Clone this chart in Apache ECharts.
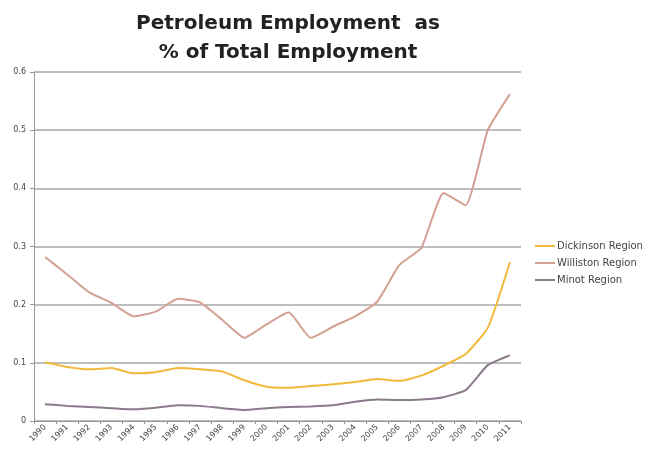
<!DOCTYPE html>
<html>
<head>
<meta charset="utf-8">
<script src="https://cdn.jsdelivr.net/npm/echarts@6/dist/echarts.min.js"></script>
<style>html,body{margin:0;padding:0;background:#fff;}#c{width:654px;height:457px;}</style>
</head>
<body>
<div id="c"></div>
<script>
const years = ['1990','1991','1992','1993','1994','1995','1996','1997','1998','1999','2000','2001','2002','2003','2004','2005','2006','2007','2008','2009','2010','2011'];
const dickinson = [0.101,0.093,0.089,0.091,0.082,0.084,0.091,0.089,0.085,0.070,0.059,0.057,0.060,0.063,0.067,0.072,0.069,0.078,0.095,0.115,0.160,0.273];
const williston = [0.282,0.252,0.221,0.203,0.180,0.188,0.210,0.204,0.174,0.143,0.166,0.187,0.143,0.162,0.180,0.205,0.268,0.298,0.392,0.371,0.500,0.562];
const minot = [0.029,0.026,0.024,0.022,0.020,0.023,0.027,0.026,0.022,0.019,0.022,0.024,0.025,0.027,0.033,0.037,0.036,0.037,0.041,0.053,0.096,0.113];
const yTicks = ['0','0.1','0.2','0.3','0.4','0.5','0.6'];

const chart = echarts.init(document.getElementById('c'));
const mk = (name, data, color) => ({
  name, type: 'line', data, symbol: 'none', smooth: 0.15,
  lineStyle: { color, width: 2 }, itemStyle: { color }
});
chart.setOption({
  animation: false,
  title: {
    text: 'Petroleum Employment  as\n% of Total Employment',
    left: 283, top: 4, textAlign: 'center',
    textStyle: { fontFamily: 'DejaVu Sans', fontSize: 20, fontWeight: 'bold', color: '#222', lineHeight: 29 }
  },
  legend: {
    orient: 'vertical', left: 530, top: 236, itemGap: 7,
    itemWidth: 20, itemHeight: 2, icon: 'rect',
    textStyle: { fontFamily: 'DejaVu Sans', fontSize: 10, color: '#444', padding: [0,0,0,-3] },
    data: ['Dickinson Region','Williston Region','Minot Region']
  },
  grid: { left: 34, right: 133, top: 72, bottom: 36 },
  xAxis: {
    type: 'category', data: years, boundaryGap: true,
    axisLine: { lineStyle: { color: '#999', width: 1 } },
    axisTick: { show: true, alignWithLabel: false, lineStyle: { color: '#999' }, length: 3 },
    axisLabel: { rotate: 45, fontSize: 8, color: '#444', fontFamily: 'DejaVu Sans', interval: 0, margin: 5 }
  },
  yAxis: {
    type: 'value', min: 0, max: 0.6, interval: 0.1,
    axisLine: { show: true, lineStyle: { color: '#999' } },
    axisTick: { show: true, length: 4, lineStyle: { color: '#999' } },
    axisLabel: { fontSize: 8, color: '#444', fontFamily: 'DejaVu Sans', margin: 8,
      formatter: (v) => yTicks[Math.round(v * 10)] },
    splitLine: { lineStyle: { color: '#a8a8a8', width: 1.5 } }
  },
  series: [
    mk('Dickinson Region', dickinson, '#f2b93b'),
    mk('Williston Region', williston, '#d3a094'),
    mk('Minot Region', minot, '#8a7a8c')
  ]
});
</script>
</body>
</html>
